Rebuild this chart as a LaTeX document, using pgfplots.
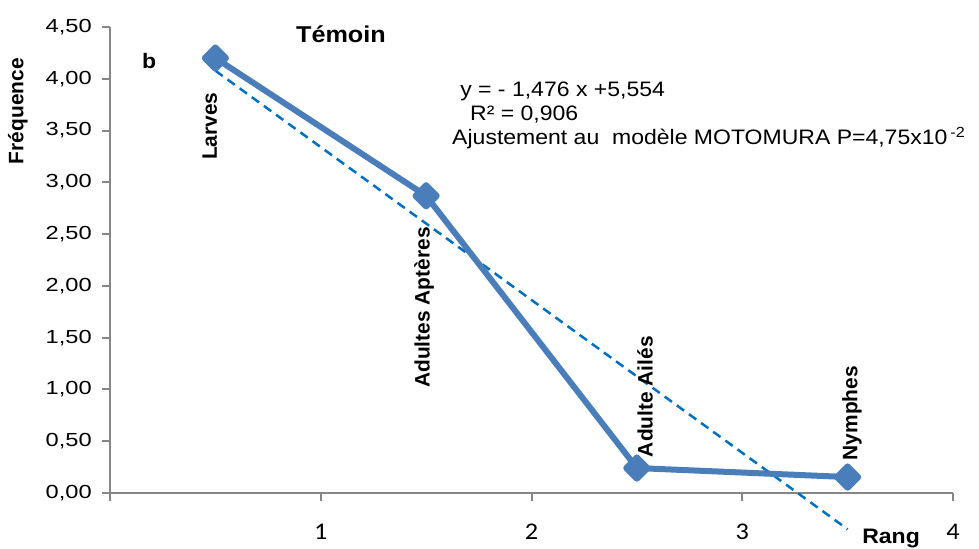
\documentclass[border=0pt]{standalone}
\usepackage{fontspec}
\setmainfont[FakeStretch=1.1]{Liberation Sans}
\newfontfamily\rotfont{Liberation Sans}
\newfontfamily\ytickfont[FakeStretch=1.25]{Liberation Sans}
\newfontfamily\xtickfont[FakeStretch=1.1]{Carlito}
\usepackage{pgfplots}
\pgfplotsset{compat=1.18}
\definecolor{serie}{RGB}{74,126,187}
\definecolor{trend}{RGB}{0,112,192}
\definecolor{axgray}{RGB}{134,134,134}
\begin{document}
\begin{tikzpicture}
\useasboundingbox (-110bp,-56bp) rectangle (869bp,493bp);
\begin{axis}[
  at={(0,0)}, anchor=south west,
  scale only axis, width=843bp, height=466bp,
  xmin=0, xmax=4, ymin=0, ymax=4.5,
  axis lines=left,
  axis line style={-, draw=axgray, line width=2.2bp},
  tick style={draw=axgray, line width=2bp},
  major tick length=8bp,
  tick align=outside,
  xtick={0,1,2,3,4}, xticklabels={,1,2,3,4},
  ytick={0,0.5,1,1.5,2,2.5,3,3.5,4,4.5},
  /pgf/number format/.cd, fixed, fixed zerofill, precision=2, use comma, assume math mode=true,
  /pgfplots/.cd,
  yticklabel style={font=\ytickfont\fontsize{19}{23}\selectfont, inner sep=0pt, xshift=-10bp},
  xticklabel style={font=\xtickfont\fontsize{24}{28}\selectfont, inner sep=0pt, yshift=-23bp},
  clip=false,
]
\addplot[trend, line width=2.5bp, dash pattern=on 9bp off 6bp] coordinates {(0.5,4.078) (3.5,-0.350)};
\addplot[serie, line width=6bp, line join=round, mark=square*, mark size=7.5bp, mark options={rotate=45, solid, fill=serie}] coordinates {(0.5,4.20) (1.5,2.87) (2.5,0.241) (3.5,0.154)};

\node[anchor=base, font=\bfseries\fontsize{23}{27}\selectfont] at (axis cs:1.096,4.353) {Témoin};
\node[anchor=base west, inner sep=0pt, font=\bfseries\fontsize{21}{25}\selectfont] at (axis cs:0.152,4.102) {b};
\node[anchor=base west, inner sep=0pt, font=\fontsize{21}{25}\selectfont] at (axis cs:1.661,3.832) {y = - 1,476 x +5,554};
\node[anchor=base west, inner sep=0pt, font=\fontsize{21}{25}\selectfont] at (axis cs:1.708,3.600) {R² = 0,906};
\node[anchor=base west, inner sep=0pt, font=\fontsize{21}{25}\selectfont] at (axis cs:1.623,3.365) {Ajustement au\ \ modèle MOTOMURA P=4,75x10\kern3bp\textsuperscript{-2}};
\node[anchor=base, inner sep=0pt, font=\bfseries\fontsize{21}{25}\selectfont] at (axis cs:3.706,-0.483) {Rang};

\node[rotate=90, inner sep=0pt, font=\rotfont\bfseries\fontsize{21}{25}\selectfont] at (axis cs:-0.437,3.687) {Fréquence};
\node[rotate=90, inner sep=0pt, font=\rotfont\bfseries\fontsize{21}{25}\selectfont] at (axis cs:0.474,3.542) {Larves};
\node[rotate=90, inner sep=0pt, font=\rotfont\bfseries\fontsize{21}{25}\selectfont] at (axis cs:1.490,1.791) {Adultes Aptères};
\node[rotate=90, inner sep=0pt, font=\rotfont\bfseries\fontsize{21}{25}\selectfont] at (axis cs:2.539,0.931) {Adulte Ailés};
\node[rotate=90, inner sep=0pt, font=\rotfont\bfseries\fontsize{21}{25}\selectfont] at (axis cs:3.521,0.772) {Nymphes};
\end{axis}
\end{tikzpicture}
\end{document}
